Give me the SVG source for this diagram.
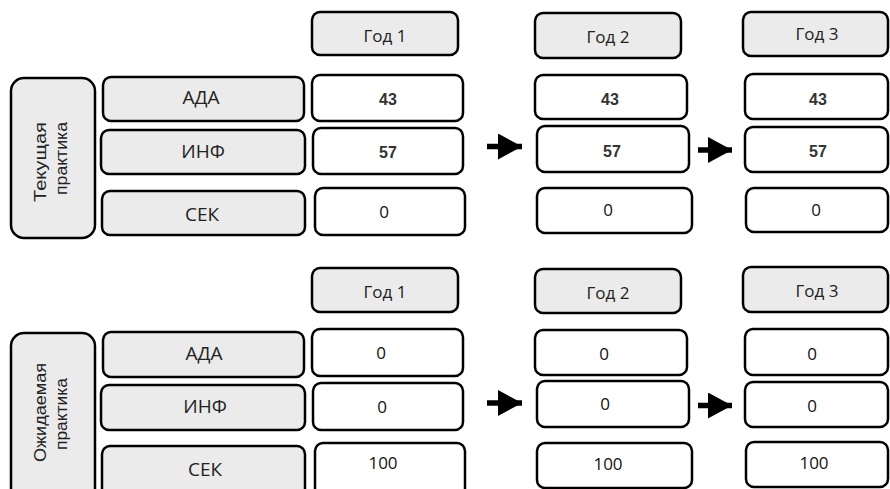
<svg xmlns="http://www.w3.org/2000/svg" width="890" height="489" viewBox="0 0 890 489">
<style>
.g{fill:#ebebeb;stroke:#000;stroke-width:2.5}
.w{fill:#fff;stroke:#000;stroke-width:2.5}
.lb{font-family:"Open Sans","DejaVu Sans",sans-serif;font-size:19px;fill:#222;text-anchor:middle}
.yr{font-family:"Open Sans","DejaVu Sans",sans-serif;font-size:17px;fill:#222;text-anchor:middle}
.nr{font-family:"Open Sans","DejaVu Sans",sans-serif;font-size:17px;fill:#111;text-anchor:middle}
.nb{font-family:"Liberation Sans",Arial,sans-serif;font-size:16px;font-weight:bold;fill:#333;text-anchor:middle}
.vt{font-family:"Liberation Sans",Arial,sans-serif;font-size:16px;fill:#222}
.ar{stroke:#000;stroke-width:5.5;fill:none}
</style>
<defs>
<marker id="ah" markerUnits="userSpaceOnUse" markerWidth="26" markerHeight="26" refX="24" refY="13" orient="auto" viewBox="0 0 26 26">
<path d="M0,0 L24,13 L0,26 Z" fill="#000"/>
</marker>
</defs>

<!-- Top section -->
<g id="top-group">
<rect class="g" x="11" y="78" width="84" height="160" rx="13"/>
<text class="vt" transform="translate(45.5,202) rotate(-90)" textLength="80" lengthAdjust="spacingAndGlyphs">Текущая</text>
<text class="vt" transform="translate(67,195) rotate(-90)" textLength="73" lengthAdjust="spacingAndGlyphs">практика</text>
</g>
<g id="top-ada"><rect class="g" x="103" y="77" width="201" height="44" rx="8"/><text class="lb" x="201" y="104">АДА</text></g>
<g id="top-inf"><rect class="g" x="101" y="130" width="204" height="44" rx="8"/><text class="lb" x="203" y="158">ИНФ</text></g>
<g id="top-sek"><rect class="g" x="102" y="191" width="203" height="44" rx="8"/><text class="lb" x="202" y="221">СЕК</text></g>

<g id="top-y1"><rect class="g" x="312" y="12" width="146" height="43" rx="8"/><text class="yr" x="385" y="42">Год 1</text></g>
<g id="top-y2"><rect class="g" x="535" y="13" width="146" height="45" rx="8"/><text class="yr" x="608" y="43">Год 2</text></g>
<g id="top-y3"><rect class="g" x="743" y="12" width="145" height="44" rx="8"/><text class="yr" x="817" y="40">Год 3</text></g>

<g id="top-y1-ada"><rect class="w" x="312" y="75" width="151" height="46" rx="8"/><text class="nb" x="388" y="105">43</text></g>
<g id="top-y1-inf"><rect class="w" x="313" y="128" width="150" height="46" rx="8"/><text class="nb" x="388" y="158">57</text></g>
<g id="top-y1-sek"><rect class="w" x="315" y="188" width="150" height="47" rx="8"/><text class="nr" x="384" y="218">0</text></g>

<g id="top-y2-ada"><rect class="w" x="535" y="75" width="152" height="44" rx="8"/><text class="nb" x="610" y="105">43</text></g>
<g id="top-y2-inf"><rect class="w" x="537" y="126" width="152" height="46" rx="8"/><text class="nb" x="612" y="157">57</text></g>
<g id="top-y2-sek"><rect class="w" x="537" y="188" width="155" height="45" rx="8"/><text class="nr" x="608" y="216">0</text></g>

<g id="top-y3-ada"><rect class="w" x="745" y="74" width="143" height="45" rx="8"/><text class="nb" x="818" y="105">43</text></g>
<g id="top-y3-inf"><rect class="w" x="745" y="127" width="143" height="45" rx="8"/><text class="nb" x="818" y="157">57</text></g>
<g id="top-y3-sek"><rect class="w" x="746" y="188" width="142" height="44" rx="8"/><text class="nr" x="816" y="216">0</text></g>

<!-- Bottom section -->
<g id="bot-group">
<rect class="g" x="11" y="333" width="84" height="170" rx="13"/>
<text class="vt" transform="translate(45.5,462) rotate(-90)" textLength="99" lengthAdjust="spacingAndGlyphs">Ожидаемая</text>
<text class="vt" transform="translate(67,450) rotate(-90)" textLength="72" lengthAdjust="spacingAndGlyphs">практика</text>
</g>
<g id="bot-ada"><rect class="g" x="103" y="332" width="201" height="45" rx="8"/><text class="lb" x="204" y="360">АДА</text></g>
<g id="bot-inf"><rect class="g" x="101" y="385" width="204" height="45" rx="8"/><text class="lb" x="205" y="413">ИНФ</text></g>
<g id="bot-sek"><rect class="g" x="102" y="446" width="203" height="55" rx="8"/><text class="lb" x="205" y="476">СЕК</text></g>

<g id="bot-y1"><rect class="g" x="312" y="268" width="146" height="44" rx="8"/><text class="yr" x="385" y="298">Год 1</text></g>
<g id="bot-y2"><rect class="g" x="535" y="269" width="146" height="44" rx="8"/><text class="yr" x="608" y="299">Год 2</text></g>
<g id="bot-y3"><rect class="g" x="743" y="267" width="145" height="45" rx="8"/><text class="yr" x="817" y="297">Год 3</text></g>

<g id="bot-y1-ada"><rect class="w" x="312" y="329" width="151" height="47" rx="8"/><text class="nr" x="381" y="359">0</text></g>
<g id="bot-y1-inf"><rect class="w" x="313" y="383" width="150" height="47" rx="8"/><text class="nr" x="382" y="413">0</text></g>
<g id="bot-y1-sek"><rect class="w" x="315" y="443" width="150" height="55" rx="8"/><text class="nr" x="383" y="469">100</text></g>

<g id="bot-y2-ada"><rect class="w" x="535" y="330" width="152" height="45" rx="8"/><text class="nr" x="604" y="360">0</text></g>
<g id="bot-y2-inf"><rect class="w" x="537" y="381" width="152" height="46" rx="8"/><text class="nr" x="605" y="410">0</text></g>
<g id="bot-y2-sek"><rect class="w" x="537" y="443" width="155" height="45" rx="8"/><text class="nr" x="608" y="470">100</text></g>

<g id="bot-y3-ada"><rect class="w" x="745" y="329" width="143" height="46" rx="8"/><text class="nr" x="812" y="360">0</text></g>
<g id="bot-y3-inf"><rect class="w" x="745" y="382" width="143" height="45" rx="8"/><text class="nr" x="812" y="412">0</text></g>
<g id="bot-y3-sek"><rect class="w" x="746" y="442" width="142" height="45" rx="8"/><text class="nr" x="814" y="469">100</text></g>

<g id="connectors">
<line class="ar" x1="487" y1="146.5" x2="522" y2="146.5" marker-end="url(#ah)"/>
<line class="ar" x1="698" y1="150" x2="732" y2="150" marker-end="url(#ah)"/>
<line class="ar" x1="487" y1="403" x2="522" y2="403" marker-end="url(#ah)"/>
<line class="ar" x1="698" y1="405.5" x2="732" y2="405.5" marker-end="url(#ah)"/>
</g>
</svg>
